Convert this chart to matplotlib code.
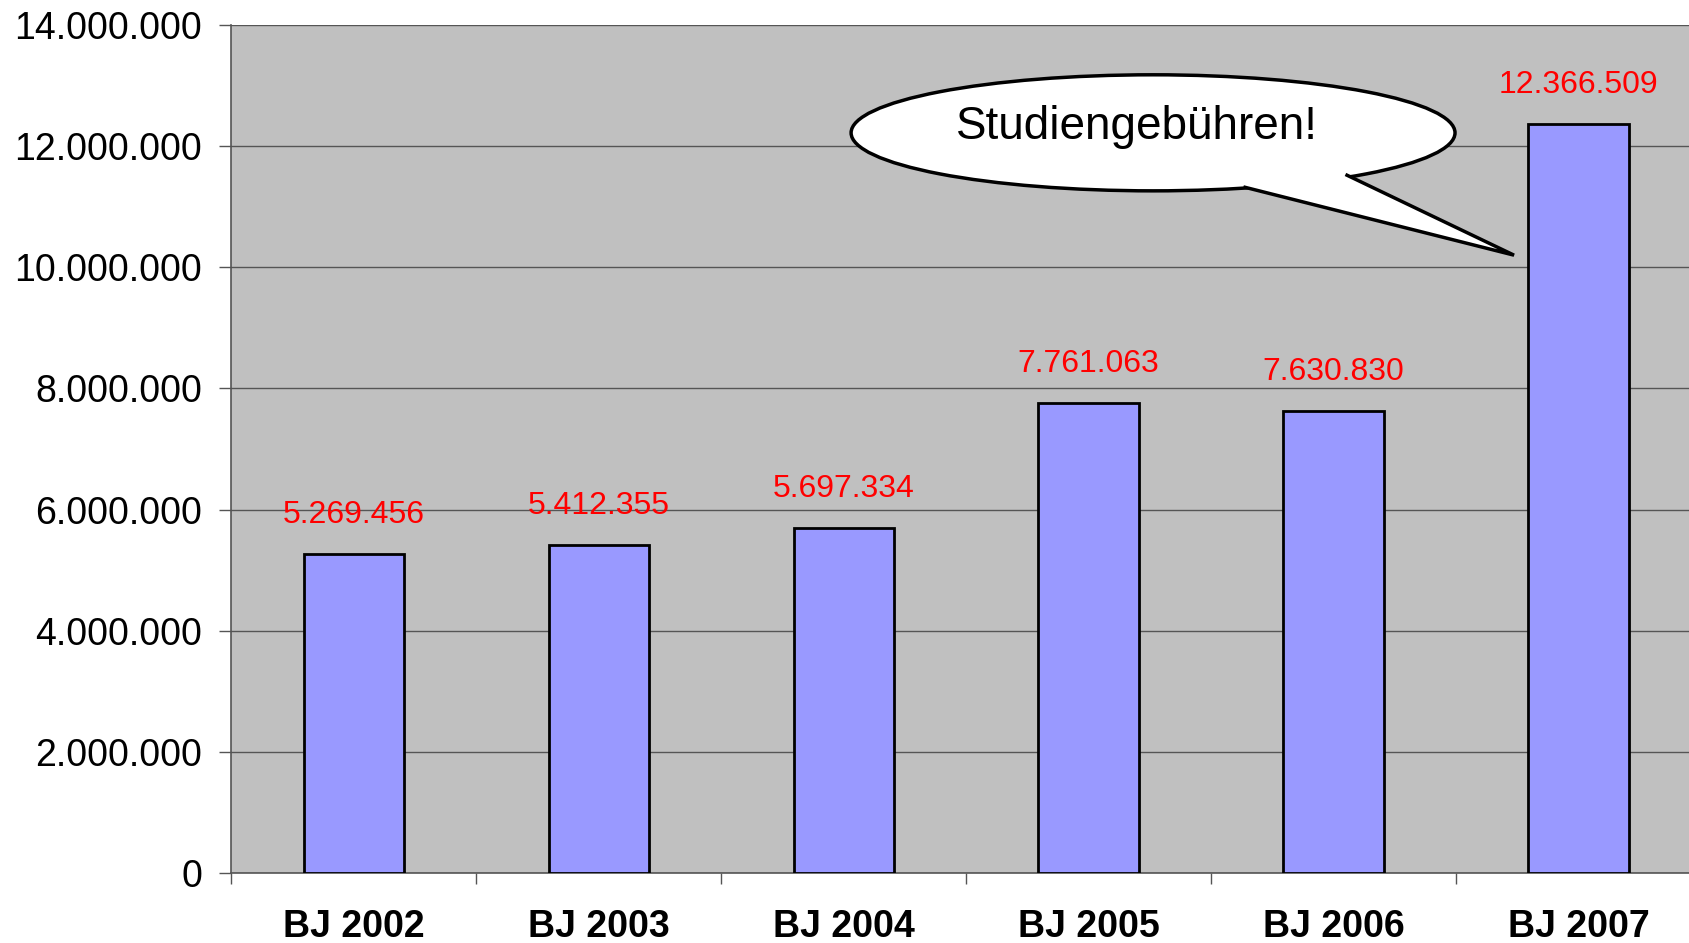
import matplotlib
matplotlib.use("Agg")
import matplotlib.pyplot as plt
from matplotlib.patches import Ellipse, Polygon
from matplotlib.ticker import FuncFormatter, MultipleLocator, FixedLocator

plt.rcParams['font.family'] = ['Liberation Sans', 'DejaVu Sans']

categories = ["BJ 2002", "BJ 2003", "BJ 2004", "BJ 2005", "BJ 2006", "BJ 2007"]
values = [5269456, 5412355, 5697334, 7761063, 7630830, 12366509]
value_labels = ["5.269.456", "5.412.355", "5.697.334", "7.761.063", "7.630.830", "12.366.509"]
callout_text = "Studiengebühren!"

W, H = 1690, 943
fig = plt.figure(figsize=(W / 100, H / 100), dpi=100)
fig.patch.set_facecolor("white")
ax = fig.add_axes([231.5 / W, (H - 873) / H, 6 * 244.9 / W, (873 - 25) / H])
ax.set_facecolor("#C0C0C0")

x = list(range(len(categories)))
ax.bar(x, values, width=0.41, color="#9999FF", edgecolor="black", linewidth=2.0, zorder=3)

for xi, v, lab in zip(x, values, value_labels):
    ax.annotate(lab, (xi, v), xytext=(0, 28), textcoords="offset points",
                ha="center", va="center", color="#FF0000", fontsize=23, zorder=5)

ax.set_xlim(-0.5, 5.5)
ax.set_ylim(0, 14000000)
ax.yaxis.set_major_locator(MultipleLocator(2000000))
ax.yaxis.set_major_formatter(FuncFormatter(lambda v, p: f"{int(v):,}".replace(",", ".")))
ax.grid(axis="y", color="#555555", linewidth=1.0, zorder=0)
ax.set_axisbelow(True)

ax.set_xticks(x)
ax.set_xticklabels(categories, fontsize=27, fontweight="bold")
ax.xaxis.set_minor_locator(FixedLocator([i - 0.5 for i in range(len(categories) + 1)]))
ax.tick_params(axis="x", which="major", length=0, pad=26)
ax.tick_params(axis="x", which="minor", length=8, width=1.0, color="#555555")
ax.tick_params(axis="y", length=9, width=1.0, color="#555555", labelsize=27, pad=12)

for s in ["top", "right"]:
    ax.spines[s].set_visible(False)
for s in ["left", "bottom"]:
    ax.spines[s].set_color("#555555")
    ax.spines[s].set_linewidth(1.2)

# speech bubble
ell = Ellipse((3.263, 12.22e6), 2.466, 1.916e6, facecolor="white", edgecolor="black",
              linewidth=2.5, zorder=6)
ax.add_patch(ell)
b1 = (3.639, 11.32e6)
tip = (4.737, 10.20e6)
b2 = (4.055, 11.52e6)
inner = (3.8, 11.9e6)
tail = Polygon([b1, tip, b2, inner], closed=True, facecolor="white", edgecolor="none", zorder=7)
ax.add_patch(tail)
ax.plot([b1[0], tip[0], b2[0]], [b1[1], tip[1], b2[1]], color="black", linewidth=2.5,
        zorder=8, solid_joinstyle="miter")
ax.text(3.198, 12.32e6, callout_text, ha="center", va="center", fontsize=33, zorder=9)

fig.savefig("out.png", dpi=100)
